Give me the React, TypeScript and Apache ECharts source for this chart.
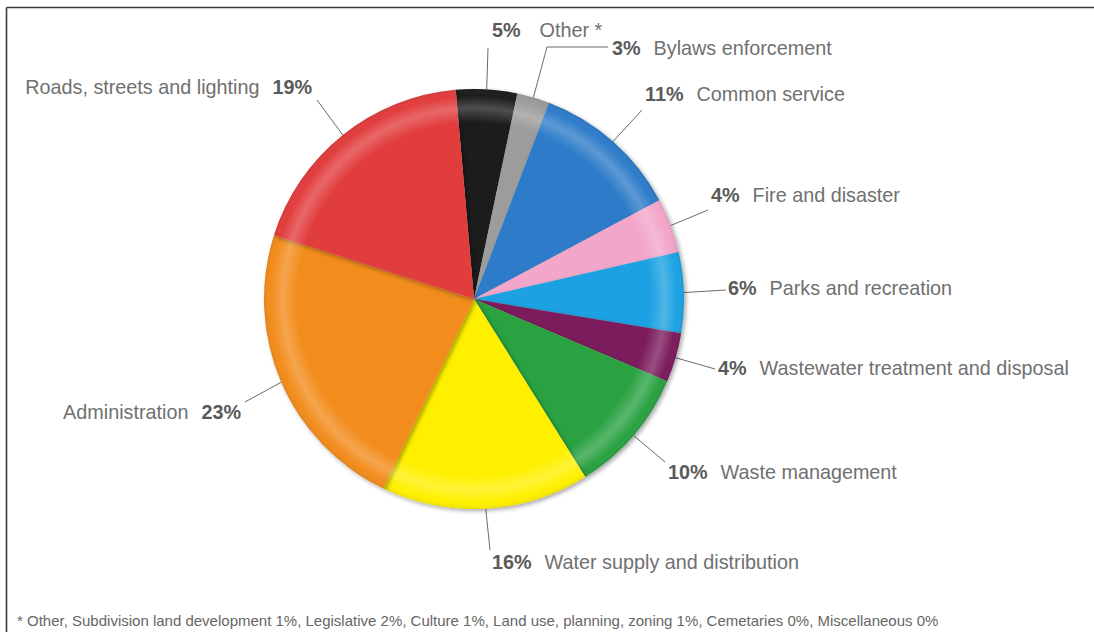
import React, { useEffect, useRef } from "react";
import * as echarts from "echarts";

const categories = [
  "Other *",
  "Bylaws enforcement",
  "Common service",
  "Fire and disaster",
  "Parks and recreation",
  "Wastewater treatment and disposal",
  "Waste management",
  "Water supply and distribution",
  "Administration",
  "Roads, streets and lighting",
];
const values = [4.7, 2.5, 11.4, 4.2, 6.2, 3.8, 9.7, 16.0, 22.8, 18.7];
const percentLabels = ["5%", "3%", "11%", "4%", "6%", "4%", "10%", "16%", "23%", "19%"];
const colors = [
  "#1c1c1c",
  "#9c9c9c",
  "#2e7bc9",
  "#f2a6c9",
  "#1fa2e2",
  "#7b1b5c",
  "#2ba243",
  "#fff000",
  "#f28c1f",
  "#e23c3c",
];
const footnote =
  "* Other, Subdivision land development 1%, Legislative 2%, Culture 1%, Land use, planning, zoning 1%, Cemetaries 0%, Miscellaneous 0%";

// label placement (annotation layout, not data)
const CENTER: [number, number] = [474, 299];
const RADIUS = 210;
const labelAnchors: { x: number; y: number; align: "left" | "right"; wide?: boolean; bend: [number, number][] }[] = [
  { x: 492, y: 30, align: "left", wide: true, bend: [[488, 48], [488, 48]] },
  { x: 612, y: 48, align: "left", bend: [[547, 47], [608, 47]] },
  { x: 645, y: 94, align: "left", bend: [[642, 110], [642, 110]] },
  { x: 711, y: 195, align: "left", bend: [[708, 210], [708, 210]] },
  { x: 728, y: 288, align: "left", bend: [[726, 290], [726, 290]] },
  { x: 718, y: 368, align: "left", bend: [[715, 369], [715, 369]] },
  { x: 668, y: 472, align: "left", bend: [[665, 462], [665, 462]] },
  { x: 492, y: 562, align: "left", bend: [[490, 550], [490, 550]] },
  { x: 241, y: 412, align: "right", bend: [[245, 402], [245, 402]] },
  { x: 312, y: 87, align: "right", bend: [[317, 100], [317, 100]] },
];

const START_ANGLE = 95;

export default function App() {
  const ref = useRef<HTMLDivElement>(null);
  useEffect(() => {
    if (!ref.current) return;
    const chart = echarts.init(ref.current, null, { renderer: "svg" });
    const total = values.reduce((a, b) => a + b, 0);
    const edgePoint = (i: number): [number, number] => {
      let before = 0;
      for (let k = 0; k < i; k++) before += values[k];
      const mid = ((before + values[i] / 2) / total) * 360;
      const ang = ((START_ANGLE - mid) * Math.PI) / 180;
      return [CENTER[0] + RADIUS * Math.cos(ang), CENTER[1] - RADIUS * Math.sin(ang)];
    };
    chart.setOption({
      animation: false,
      backgroundColor: "#ffffff",
      textStyle: { fontFamily: "Liberation Sans, Arial, sans-serif" },
      graphic: [
        { type: "line", shape: { x1: 6.5, y1: 7.5, x2: 1094, y2: 7.5 }, style: { stroke: "#3a3a3a", lineWidth: 1.6 } },
        { type: "line", shape: { x1: 6.5, y1: 7.5, x2: 6.5, y2: 632 }, style: { stroke: "#3a3a3a", lineWidth: 1.6 } },
        {
          type: "text",
          x: 17,
          y: 620,
          style: {
            text: footnote,
            fill: "#666",
            font: "15px 'Liberation Sans', Arial, sans-serif",
            textVerticalAlign: "middle",
          },
        },
      ],
      series: [
        {
          type: "pie",
          center: CENTER,
          radius: RADIUS,
          startAngle: START_ANGLE,
          clockwise: true,
          avoidLabelOverlap: false,
          itemStyle: {
            shadowBlur: 4,
            shadowColor: "rgba(0,0,0,0.35)",
            shadowOffsetX: 2,
            shadowOffsetY: 2,
          },
          label: {
            show: true,
            formatter: (p: any) => {
              const i = p.dataIndex;
              const a = labelAnchors[i];
              if (a.align === "left") {
                const tag = a.wide ? "w" : "p";
                return `{${tag}|${percentLabels[i]}}{n|${categories[i]}}`;
              }
              return `{n|${categories[i]}}{q|${percentLabels[i]}}`;
            },
            rich: {
              p: { fontSize: 19.8, fontWeight: "bold", color: "#5a5a5a", padding: [0, 13, 0, 0] },
              w: { fontSize: 19.8, fontWeight: "bold", color: "#5a5a5a", padding: [0, 19, 0, 0] },
              q: { fontSize: 19.8, fontWeight: "bold", color: "#5a5a5a", padding: [0, 0, 0, 13] },
              n: { fontSize: 19.8, color: "#707070" },
            },
          },
          labelLine: {
            show: true,
            lineStyle: { color: "#6a6a6a", width: 1 },
          },
          labelLayout: (params: any) => {
            const i = params.dataIndex;
            const a = labelAnchors[i];
            return {
              x: a.x,
              y: a.y,
              align: a.align,
              verticalAlign: "middle",
              labelLinePoints: [edgePoint(i), a.bend[0], a.bend[1]],
            };
          },
          data: categories.map((name, i) => ({
            name,
            value: values[i],
            itemStyle: { color: colors[i] },
          })),
        },
        {
          type: "pie",
          center: CENTER,
          radius: RADIUS,
          silent: true,
          label: { show: false },
          labelLine: { show: false },
          data: [
            {
              value: 1,
              itemStyle: {
                color: {
                  type: "radial",
                  x: 0.5,
                  y: 0.5,
                  r: 0.5,
                  colorStops: [
                    { offset: 0, color: "rgba(255,255,255,0)" },
                    { offset: 0.84, color: "rgba(255,255,255,0)" },
                    { offset: 0.91, color: "rgba(255,255,255,0.22)" },
                    { offset: 0.97, color: "rgba(255,255,255,0)" },
                    { offset: 1, color: "rgba(0,0,0,0.08)" },
                  ],
                },
              },
            },
          ],
        },
      ],
    });
    return () => chart.dispose();
  }, []);
  return <div ref={ref} style={{ position: "fixed", left: 0, top: 0, width: 1094, height: 632 }} />;
}
